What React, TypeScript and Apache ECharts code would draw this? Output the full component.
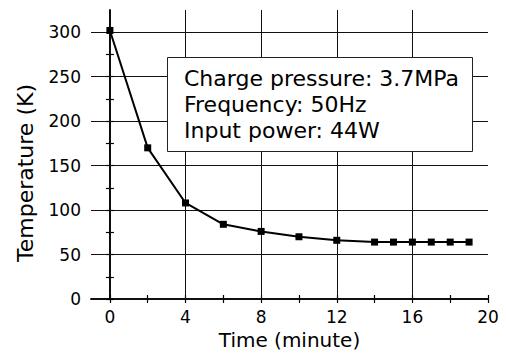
import React, { useEffect, useRef } from "react";
import * as echarts from "echarts";

const timeMin = [0, 2, 4, 6, 8, 10, 12, 14, 15, 16, 17, 18, 19];
const temperatureK = [302, 170, 108, 84, 76, 70, 66, 64, 64, 64, 64, 64, 64];
const xLabelValues = [0, 4, 8, 12, 16, 20];
const xTickValues = [0, 2, 4, 6, 8, 10, 12, 14, 16, 18, 20];
const xGridValues = [0, 4, 8, 12, 16];
const yLabelValues = [0, 50, 100, 150, 200, 250, 300];
const yTickValues = [0, 25, 50, 75, 100, 125, 150, 175, 200, 225, 250, 275, 300];
const yGridValues = [50, 100, 150, 200, 250, 300];
const xAxisTitle = "Time (minute)";
const yAxisTitle = "Temperature (K)";
const annotationLines = ["Charge pressure: 3.7MPa", "Frequency: 50Hz", "Input power: 44W"];

const FONT = "DejaVu Sans";

export default function App() {
  const ref = useRef<HTMLDivElement>(null);
  useEffect(() => {
    if (!ref.current) return;
    const chart = echarts.init(ref.current, undefined, { renderer: "svg" });
    const axisLine = { show: true, lineStyle: { color: "#000", width: 1.6 } };
    const tickStyle = { color: "#000", width: 1.2 };
    const gridLine = { color: "#111", width: 1, type: "solid" };
    const option: any = {
      animation: false,
      backgroundColor: "#fff",
      grid: { left: 91, right: 18, top: 10, bottom: 59 },
      xAxis: [
        {
          type: "value",
          position: "bottom",
          min: -1,
          max: 20,
          name: xAxisTitle,
          nameLocation: "middle",
          nameGap: 31,
          nameTextStyle: { fontFamily: FONT, fontSize: 20, color: "#000" },
          axisLine,
          axisTick: { show: true, inside: true, length: 4, customValues: xTickValues, lineStyle: tickStyle },
          axisLabel: { customValues: xLabelValues, fontFamily: FONT, fontSize: 17, color: "#000", margin: 9 },
          splitLine: { show: false },
        },
        {
          type: "value",
          position: "top",
          min: -1,
          max: 20,
          axisLine,
          axisTick: { show: true, inside: true, length: 4, customValues: xTickValues, lineStyle: tickStyle },
          axisLabel: { show: false },
          splitLine: { show: false },
        },
      ],
      yAxis: [
        {
          type: "value",
          position: "left",
          min: 0,
          max: 325,
          axisLine,
          axisTick: { show: true, inside: true, length: 4, customValues: yTickValues, lineStyle: tickStyle },
          axisLabel: { customValues: yLabelValues, fontFamily: FONT, fontSize: 17, color: "#000", margin: 10 },
          splitLine: { show: false },
        },
        {
          type: "value",
          position: "right",
          min: 0,
          max: 325,
          axisLine,
          axisTick: { show: true, inside: true, length: 4, customValues: yTickValues, lineStyle: tickStyle },
          axisLabel: { show: false },
          splitLine: { show: false },
        },
      ],
      series: [
        {
          type: "line",
          xAxisIndex: 0,
          yAxisIndex: 0,
          data: timeMin.map((t, i) => [t, temperatureK[i]]),
          symbol: "rect",
          symbolSize: 7,
          showAllSymbol: true,
          lineStyle: { color: "#000", width: 2 },
          itemStyle: { color: "#000" },
          z: 5,
          markLine: {
            silent: true,
            symbol: "none",
            label: { show: false },
            lineStyle: gridLine,
            emphasis: { disabled: true },
            z: 1,
            data: [
              ...xGridValues.map((v) => ({ xAxis: v })),
              ...yGridValues.map((v) => ({ yAxis: v })),
            ],
          },
        },
      ],
      graphic: [
        {
          type: "text",
          x: 25,
          y: 173,
          rotation: Math.PI / 2,
          style: {
            text: yAxisTitle,
            fontFamily: FONT,
            fontSize: 22,
            fill: "#000",
            align: "center",
            verticalAlign: "middle",
          },
        },
        {
          type: "rect",
          left: 167,
          top: 57,
          shape: { width: 305, height: 94 },
          style: { fill: "#fff", stroke: "#222", lineWidth: 1 },
          z: 10,
        },
        {
          type: "text",
          left: 184,
          top: 65,
          style: {
            text: annotationLines.join("\n"),
            fontFamily: FONT,
            fontSize: 22,
            lineHeight: 26,
            fill: "#000",
          },
          z: 11,
        },
      ],
    };
    chart.setOption(option);
    return () => chart.dispose();
  }, []);
  return <div ref={ref} style={{ width: 506, height: 358, position: "absolute", left: 0, top: 0 }} />;
}
